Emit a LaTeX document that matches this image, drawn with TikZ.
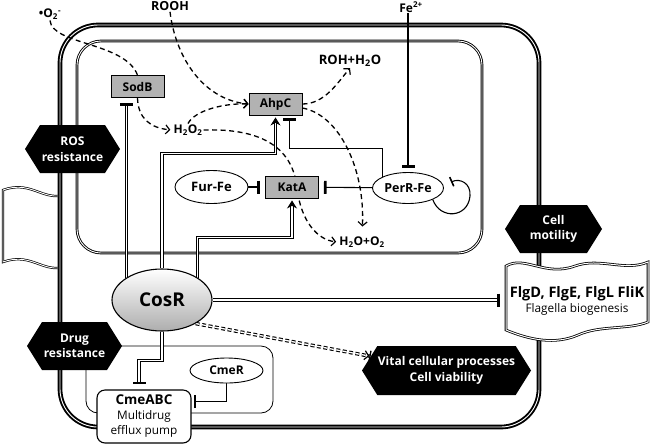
\documentclass[tikz,border=0pt]{standalone}
\usepackage{fontspec}
\setmainfont{Open Sans}
\usetikzlibrary{arrows.meta,shapes.geometric,shapes.symbols,calc}
\pgfdeclarelayer{back}
\pgfdeclarelayer{mid}
\pgfsetlayers{back,mid,main}
\begin{document}
\begin{tikzpicture}[x=1pt,y=-1pt,
  font=\fontsize{12.5}{14}\selectfont\bfseries,
  gbox/.style={draw, fill=black!30, line width=0.9pt, minimum width=53pt, minimum height=22pt, inner sep=0pt},
  oval/.style={draw, ellipse, fill=white, line width=0.9pt, inner sep=0pt},
  hexa/.style={signal, signal to=east and west, signal pointer angle=116, fill=black, text=white, inner sep=0pt, align=center, font=\fontsize{12}{15.5}\selectfont\bfseries},
  lbl/.style={inner sep=1pt},
  dsh/.style={dash pattern=on 5pt off 3.5pt, line width=1.3pt},
  dar/.style={dsh, -{Straight Barb[length=4pt,width=9pt,line width=1.2pt]}},
  dbl/.style={double, double distance=1.3pt, line width=1.1pt},
  lnk/.style={line width=1.1pt},
  inh/.style={-{Bar[width=13pt,line width=2.6pt]}},
  act/.style={-{Stealth[length=8pt,width=10pt]}},
  cellline/.style={double, line width=1.9pt, double distance=0.9pt, rounded corners=38pt},
]
\useasboundingbox (0,0) rectangle (650,445);
% ---------- nodes ----------
\node[hexa, minimum width=95pt, minimum height=48pt] (ros) at (72.5,149) {ROS\\resistance};
\node[hexa, minimum width=97pt, minimum height=48pt] (mot) at (553.5,229) {Cell\\motility};
\node[hexa, minimum width=95pt, minimum height=48pt] (drug) at (74.5,346) {Drug\\resistance};
\node[hexa, minimum width=169pt, minimum height=49pt] (vital) at (446.5,370.5) {Vital cellular processes\\Cell viability};
\node[gbox, font=\fontsize{12}{14}\selectfont\bfseries] (sodb) at (137.5,86.5) {SodB};
\node[gbox, font=\fontsize{12}{14}\selectfont\bfseries] (ahpc) at (275.5,104) {AhpC};
\node[gbox, font=\fontsize{12}{14}\selectfont\bfseries] (kata) at (292,187) {KatA};
\node[oval, minimum width=73pt, minimum height=33pt, font=\fontsize{13}{14}\selectfont\bfseries] (fur) at (211.5,187) {Fur-Fe};
\node[oval, minimum width=71pt, minimum height=31pt] (perr) at (408,188) {PerR-Fe};
\node[oval, minimum width=73pt, minimum height=25pt, font=\fontsize{12}{14}\selectfont\bfseries] (cmer) at (226.5,370.5) {CmeR};
\node[draw, fill=white, rounded corners=8pt, line width=1.1pt, minimum width=94pt, minimum height=53pt, inner sep=0pt, align=center, font=\fontsize{13.5}{15}\selectfont\bfseries] (cme) at (144,416.5) {CmeABC\\{\mdseries\fontsize{11.8}{14.5}\selectfont Multidrug}\\{\mdseries\fontsize{11.8}{14.5}\selectfont efflux pump}};
\node[ellipse, draw, line width=1.1pt, minimum width=100pt, minimum height=62pt, top color=white, bottom color=black!32, font=\fontsize{19}{22}\selectfont\bfseries] (cosr) at (162,300) {CosR};
\node[lbl, font=\fontsize{12}{14}\selectfont\bfseries] (o2) at (50,14) {\textbullet O\textsubscript{2}\textsuperscript{-}};
\node[lbl] (rooh) at (170,6) {ROOH};
\node[lbl, font=\fontsize{12}{14}\selectfont\bfseries] (fe) at (411,7) {Fe\textsuperscript{2+}};
\node[lbl, font=\fontsize{13}{14}\selectfont\bfseries] (roh) at (350,61) {ROH+H\textsubscript{2}O};
\node[lbl, font=\fontsize{12}{14}\selectfont\bfseries] (h2o2) at (188,130) {H\textsubscript{2}O\textsubscript{2}};
\node[lbl, font=\fontsize{12}{14}\selectfont\bfseries] (h2oo2) at (362,242) {H\textsubscript{2}O+O\textsubscript{2}};
\node[minimum width=142pt, minimum height=64pt, inner sep=0pt, align=center, font=\fontsize{14.5}{15}\selectfont\bfseries] (flg) at (577,301) {FlgD, FlgE, FlgL FliK\\{\mdseries\fontsize{11.8}{14}\selectfont Flagella biogenesis}};
% ---------- back layer: cell ----------
\begin{pgfonlayer}{back}
\fill[white] (0,0) rectangle (650,445);
\draw[cellline] (60,25) rectangle (539,427);
\draw[double, line width=0.9pt, double distance=0.9pt, rounded corners=24pt] (77,41) rectangle (482,253);
\draw[double, line width=0.7pt, double distance=0.9pt] (58,196) .. controls (40,197) and (28,181) .. (3,190) -- (3,262) .. controls (28,253) and (40,269) .. (58,268);
\draw[line width=0.8pt, rounded corners=12pt] (86,346) rectangle (273,413);
\end{pgfonlayer}
% ---------- mid layer: connectors ----------
\begin{pgfonlayer}{mid}
\draw[dsh] (o2.south) .. controls (52,45) and (125,42) .. (sodb.north);
\draw[dar, shorten >=2pt] (sodb.south) .. controls (138,118) and (150,128) .. (h2o2.west);
\draw[dar] (rooh.south) .. controls (176,60) and (205,100) .. (ahpc.west);
\draw[dar] (h2o2.north) .. controls (195,110) and (225,103) .. (ahpc.west);
\draw[dar] (ahpc.east) .. controls (325,104) and (338,82) .. (roh.south);
\draw[dar, shorten >=9pt] ([yshift=-4pt]ahpc.east) .. controls (340,115) and (365,170) .. (h2oo2.north);
\draw[dar, shorten >=2pt] (h2o2.east) .. controls (265,128) and (293,150) .. (297,188) .. controls (301,222) and (318,240) .. (h2oo2.west);
% CosR connectors
\draw[dbl, inh, shorten >=5pt] (cosr.148) -- (cosr.148 |- sodb.south);
\draw[dbl, act, shorten >=2pt] (cosr.north) |- ($(ahpc.south)+(0,38)$) -- (ahpc.south);
\draw[dbl, act, shorten >=2pt] (cosr.32) |- ($(kata.south)+(0,39)$) -- (kata.south);
\draw[dbl, inh, shorten >=6pt] (cosr) -- (cosr -| flg.west);
\draw[dbl, inh, shorten >=5pt] (cosr.south) -- ++(0,29) -| ($(cme.north)+(-5,0)$);
\draw[double, double distance=1.3pt, line width=1.1pt, dash pattern=on 4pt off 2.5pt, -{Straight Barb[length=4pt,width=9pt,line width=1.2pt] Bar[width=11pt,line width=1.3pt]}] (cosr.-35) -- (vital);
% thin connectors
\draw[lnk, inh, shorten >=5pt] (fur) -- (kata);
\draw[lnk, inh, shorten >=5pt] (perr) -- (kata);
\draw[lnk, inh, shorten >=4pt] (fe.south -| perr) -- (perr);
\draw[lnk, inh, shorten >=3pt] (perr.156) |- ($(ahpc.south)+(14,33)$) -- ($(ahpc.south)+(14,0)$);
\draw[lnk, inh, shorten >=2pt] (cmer.south) |- ($(cme.east)+(0,-15)$);
\draw[lnk, -{Bar[width=10pt,line width=1.6pt]}] (perr.-25) .. controls (440,220) and (468,218) .. (470,196) .. controls (471,183) and (460,178) .. (451,182);
% flagellar gene box
\draw[double, line width=0.8pt, double distance=1pt, fill=white]
 (506,266) .. controls (525,255) and (545,277) .. (575,266) .. controls (600,257) and (625,272) .. (648,262)
 -- (648,322) .. controls (628,330) and (600,325) .. (578,335) .. controls (555,345) and (530,340) .. (506,330) -- cycle;
\end{pgfonlayer}
\end{tikzpicture}
\end{document}
